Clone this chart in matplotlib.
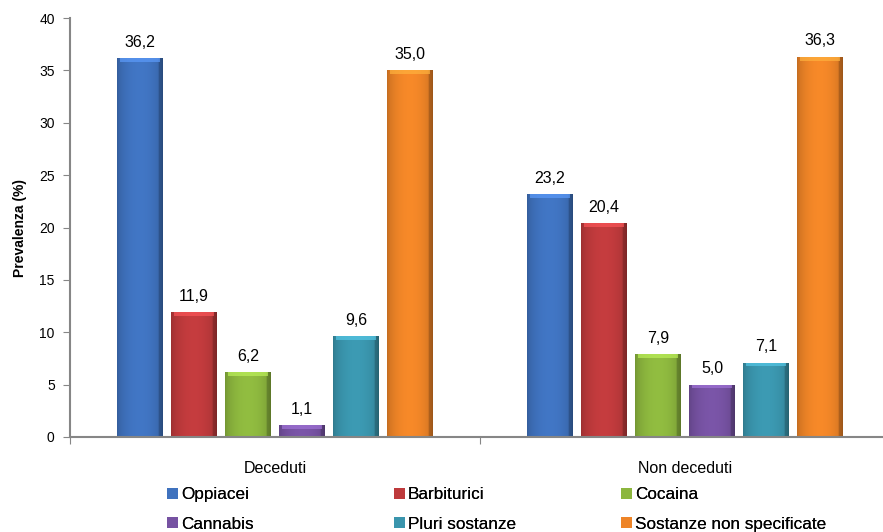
import numpy as np
import matplotlib.pyplot as plt
from matplotlib.colors import to_rgb
from matplotlib.patches import Rectangle

plt.rcParams['font.family'] = ['Liberation Sans', 'DejaVu Sans']

groups = ["Deceduti", "Non deceduti"]
substances = ["Oppiacei", "Barbiturici", "Cocaina", "Cannabis",
              "Pluri sostanze", "Sostanze non specificate"]
values = {
    "Oppiacei": [36.2, 23.2],
    "Barbiturici": [11.9, 20.4],
    "Cocaina": [6.2, 7.9],
    "Cannabis": [1.1, 5.0],
    "Pluri sostanze": [9.6, 7.1],
    "Sostanze non specificate": [35.0, 36.3],
}
colors = ["#3F72BE", "#BE3A3C", "#8CB63E", "#7652A2", "#3A95AD", "#EE8427"]
y_ticks = [0, 5, 10, 15, 20, 25, 30, 35, 40]


def fmt(v):
    return f"{v:.1f}".replace(".", ",")


def shaded_bar(ax, x0, width, height, color):
    base = np.array(to_rgb(color))
    t = np.linspace(0, 1, 64)
    # horizontal shading: darker edges, lighter middle
    prof = 0.82 + 0.22 * np.sin(np.pi * t) ** 0.6
    prof[-6:] *= 0.8
    img = np.clip(base[None, :] * prof[:, None], 0, 1)[None, :, :]
    im = ax.imshow(img, extent=[x0, x0 + width, 0, height], aspect='auto',
                   interpolation='bilinear', zorder=2)
    clip = Rectangle((x0, 0), width, height, transform=ax.transData,
                     facecolor='none', edgecolor='none')
    ax.add_patch(clip)
    im.set_clip_path(clip)
    # lighter top bevel
    bev = min(0.35, height * 0.5)
    light = np.clip(base * 1.25 + 0.05, 0, 1)
    ax.add_patch(Rectangle((x0 + width * 0.06, height - bev), width * 0.88, bev,
                           facecolor=light, edgecolor='none', alpha=0.7, zorder=3))


fig = plt.figure(figsize=(8.83, 5.32), dpi=100)
ax = fig.add_axes([0.0793, 0.1786, 0.9287, 0.7874])

n = len(substances)
pitch = 0.1317
width = 0.112
x = np.arange(len(groups))
for i, (name, col) in enumerate(zip(substances, colors)):
    off = (i - (n - 1) / 2) * pitch
    for gi, v in enumerate(values[name]):
        cx = x[gi] + off
        shaded_bar(ax, cx - width / 2, width, v, col)
        ax.text(cx, v + 0.8, fmt(v), ha='center', va='bottom', fontsize=11.5,
                color='black', zorder=4)

ax.set_xlim(-0.5, 1.5)
ax.set_ylim(0, 40)
ax.set_yticks(y_ticks)
ax.set_yticklabels([str(t) for t in y_ticks], fontsize=10)
ax.set_ylabel("Prevalenza (%)", fontsize=10, fontweight='bold', labelpad=9)

ax.set_xticks([-0.5, 0.5, 1.5])
ax.set_xticklabels([])
ax.set_xticks(x, minor=True)
ax.set_xticklabels(groups, minor=True, fontsize=11.5)
ax.tick_params(axis='x', which='minor', length=0, pad=17)
ax.tick_params(axis='x', which='major', length=5, color='#868686')
ax.tick_params(axis='y', length=5, color='#868686', pad=6)

for s in ['top', 'right']:
    ax.spines[s].set_visible(False)
for s in ['left', 'bottom']:
    ax.spines[s].set_color('#868686')
    ax.spines[s].set_linewidth(1.5)
    ax.spines[s].set_zorder(5)

# legend: three columns, filled row by row
col_x = [0.178, 0.435, 0.692]
for c in range(3):
    idx = [c, c + 3]
    handles = [Rectangle((0, 0), 1, 1, facecolor=colors[k], edgecolor='none')
               for k in idx]
    leg = fig.legend(handles, [substances[k] for k in idx], loc='lower left',
                     bbox_to_anchor=(col_x[c], -0.019), frameon=False,
                     fontsize=12.3, handlelength=0.6, handleheight=0.6,
                     handletextpad=0.2, labelspacing=0.85, borderaxespad=0.2)
    fig.add_artist(leg)

fig.savefig("out.png", dpi=100)
